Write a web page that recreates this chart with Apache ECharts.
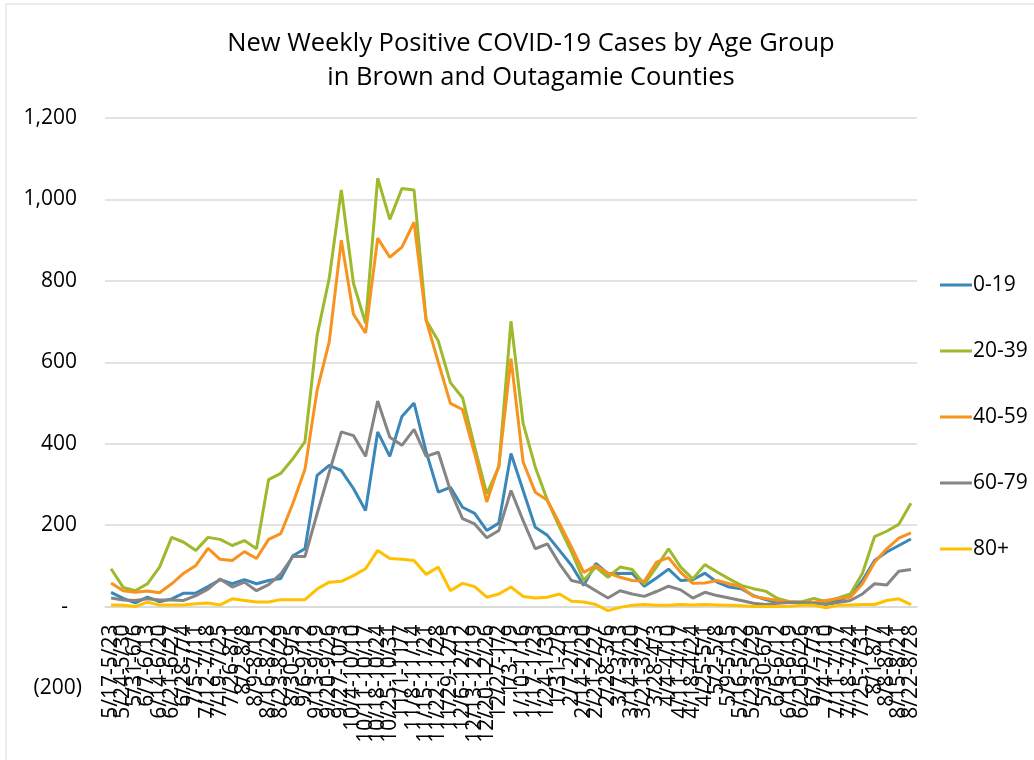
<!DOCTYPE html>
<html>
<head>
<meta charset="utf-8">
<script src="https://cdn.jsdelivr.net/npm/echarts@6/dist/echarts.min.js"></script>
<style>
  html, body { margin: 0; padding: 0; background: #fff; }
  #chart { width: 1034px; height: 760px; }
</style>
</head>
<body>
<div id="chart"></div>
<script>
// Weekly periods (2020-2021)
const weeks = [
  '5/17-5/23','5/24-5/30','5/31-6/6','6/7-6/13','6/14-6/20','6/21-6/27','6/28-7/4',
  '7/5-7/11','7/12-7/18','7/19-7/25','7/26-8/1','8/2-8/8','8/9-8/15','8/16-8/22',
  '8/23-8/29','8/30-9/5','9/6-9/12','9/13-9/19','9/20-9/26','9/27-10/3','10/4-10/10',
  '10/11-10/17','10/18-10/24','10/25-10/31','11/1-11/7','11/8-11/14','11/15-11/21',
  '11/22-11/28','11/29-12/5','12/6-12/12','12/13-12/19','12/20-12/26','12/27-1/2',
  '1/3-1/9','1/10-1/16','1/17-1/23','1/24-1/30','1/31-2/6','2/7-2/13','2/14-2/20',
  '2/21-2/27','2/28-3/6','3/7-3/13','3/14-3/20','3/21-3/27','3/28-4/3','4/4-4/10',
  '4/11-4/17','4/18-4/24','4/25-5/1','5/2-5/8','5/9-5/15','5/16-5/22','5/23-5/29',
  '5/30-6/5','6/6-6/12','6/13-6/19','6/20-6/26','6/27-7/3','7/4-7/10','7/11-7/17',
  '7/18-7/24','7/25-7/31','8/1-8/7','8/8-8/14','8/15-8/21','8/22-8/28'
];

// New positive cases per week, by age group
const age0to19 = [
  35,20,9,23,12,19,33,33,49,66,
  56,66,56,64,69,125,142,322,347,334,
  290,236,429,369,467,500,380,281,293,244,
  229,187,205,376,285,195,175,138,101,52,
  106,81,81,82,50,70,92,64,66,82,
  60,48,44,27,17,10,10,10,10,7,
  15,25,64,113,134,150,166
];
const age20to39 = [
  93,47,39,56,97,170,158,138,170,165,
  150,162,142,312,327,363,405,666,806,1023,
  794,696,1052,951,1027,1023,703,652,550,513,
  392,277,343,701,450,343,261,195,134,64,
  97,72,97,91,55,97,142,97,68,103,
  85,68,52,44,38,20,12,12,20,12,
  21,31,82,172,185,202,254
];
const age40to59 = [
  58,39,35,38,34,56,82,101,143,116,
  113,135,118,165,179,253,337,531,650,900,
  718,672,905,858,883,944,703,600,499,484,
  376,257,347,609,355,281,261,204,146,84,
  101,82,72,64,62,109,120,84,57,58,
  64,56,48,25,20,15,12,10,10,15,
  20,23,56,109,142,168,181
];
const age60to79 = [
  21,16,15,19,16,16,15,27,43,68,
  48,60,39,54,80,123,123,228,330,429,
  420,369,505,416,396,435,369,379,285,216,
  203,169,187,285,211,142,154,105,64,57,
  39,21,39,31,25,37,50,41,21,35,
  27,21,15,8,5,8,10,10,8,5,
  10,15,31,56,53,87,91
];
const age80plus = [
  4,3,0,11,4,4,4,7,9,4,
  19,15,11,11,17,17,17,43,60,62,
  76,93,138,118,116,113,79,97,39,57,
  49,23,31,48,25,21,23,31,13,11,
  5,-10,-2,3,5,3,3,5,4,5,
  4,3,2,0,0,0,1,3,3,-3,
  3,4,5,5,15,19,5
];

const groupNames = ['0-19', '20-39', '40-59', '60-79', '80+'];
const groupValues = [age0to19, age20to39, age40to59, age60to79, age80plus];
const groupColors = ['#3a87b9', '#9cba2b', '#f7931e', '#858585', '#ffc000'];

const FONT = 'Open Sans';
const Y_MIN = -200;
const Y_MAX = 1200;

function accounting(v) {
  if (v === 0) return '{d|-}';
  const s = Math.abs(v).toLocaleString('en-US');
  return v < 0 ? '{n|(' + s + ')}' : '{p|' + s + '}';
}

const GRID_TOP = 118;
const GRID_BOTTOM = 72;
const CHART_H = 760;
// Lift the category axis from the grid bottom up to the zero line
const plotH = CHART_H - GRID_TOP - GRID_BOTTOM;
const zeroLift = plotH * (0 - Y_MIN) / (Y_MAX - Y_MIN);

const chart = echarts.init(document.getElementById('chart'), null, { renderer: 'canvas' });

chart.setOption({
  animation: false,
  backgroundColor: '#ffffff',
  graphic: [{
    type: 'rect',
    shape: { x: 6, y: 4, width: 1100, height: 900 },
    style: { fill: 'none', stroke: '#d9d9d9', lineWidth: 1 },
    silent: true
  }],
  title: {
    text: 'New Weekly Positive COVID-19 Cases by Age Group\nin Brown and Outagamie Counties',
    left: 526,
    top: 22,
    textAlign: 'center',
    textStyle: {
      fontFamily: FONT,
      fontSize: 25.5,
      fontWeight: 'normal',
      color: '#000',
      lineHeight: 34
    }
  },
  grid: { left: 105, right: 117, top: GRID_TOP, bottom: GRID_BOTTOM, outerBoundsMode: 'none' },
  legend: {
    orient: 'vertical',
    left: 935,
    top: 269,
    icon: 'rect',
    itemWidth: 32,
    itemHeight: 3,
    itemGap: 44,
    data: groupNames,
    textStyle: { fontFamily: FONT, fontSize: 21, color: '#000', lineHeight: 22, padding: [0, 0, 0, -4] }
  },
  xAxis: {
    type: 'category',
    data: weeks,
    boundaryGap: true,
    position: 'bottom',
    offset: -zeroLift,
    axisLine: { onZero: false, lineStyle: { color: '#d9d9d9', width: 1.5 } },
    axisTick: { show: false },
    splitLine: { show: false },
    axisLabel: {
      interval: 0,
      rotate: 90,
      margin: 18,
      hideOverlap: false,
      fontFamily: FONT,
      fontSize: 21,
      color: '#000'
    }
  },
  yAxis: {
    type: 'value',
    min: Y_MIN,
    max: Y_MAX,
    interval: 200,
    axisLine: { show: false },
    axisTick: { show: false },
    splitLine: { show: true, showMinLine: false, lineStyle: { color: '#d9d9d9', width: 1.5 } },
    axisLabel: {
      margin: 23,
      formatter: accounting,
      rich: {
        p: { fontFamily: FONT, fontSize: 21, color: '#000', padding: [0, 5, 0, 0] },
        n: { fontFamily: FONT, fontSize: 21, color: '#000' },
        d: { fontFamily: FONT, fontSize: 21, color: '#000', padding: [0, 14, 0, 0] }
      }
    }
  },
  series: groupNames.map((name, i) => ({
    name: name,
    type: 'line',
    data: groupValues[i],
    symbol: 'none',
    color: groupColors[i],
    lineStyle: { width: 3, color: groupColors[i] }
  }))
});
</script>
</body>
</html>
